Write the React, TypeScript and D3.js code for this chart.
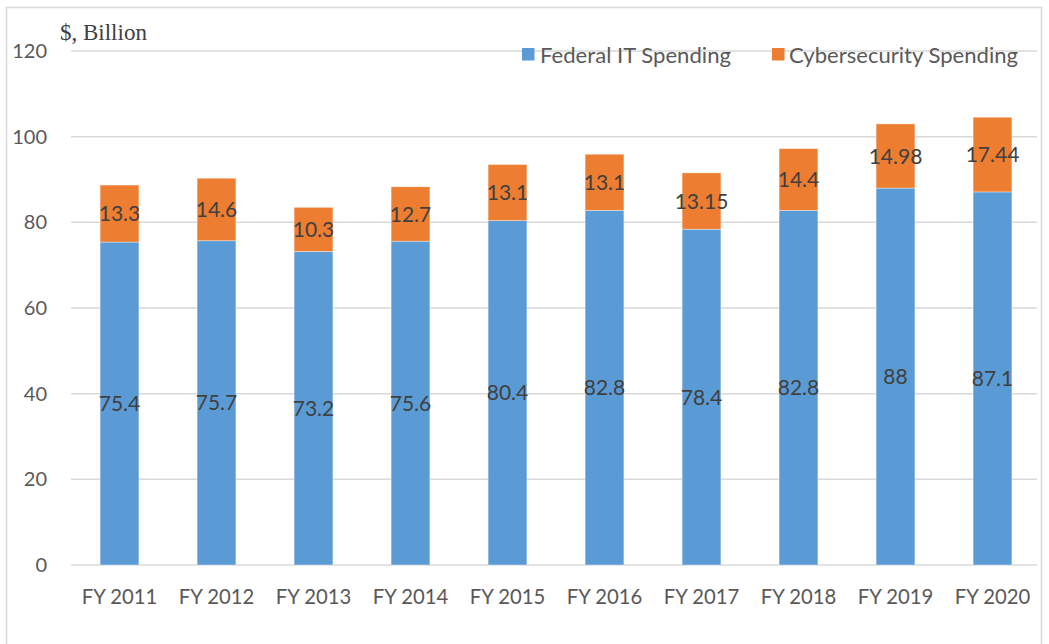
import React from "react";
import * as d3 from "d3";

const categories = ["FY 2011", "FY 2012", "FY 2013", "FY 2014", "FY 2015", "FY 2016", "FY 2017", "FY 2018", "FY 2019", "FY 2020"];
const federalIT = [75.4, 75.7, 73.2, 75.6, 80.4, 82.8, 78.4, 82.8, 88, 87.1];
const cyber = [13.3, 14.6, 10.3, 12.7, 13.1, 13.1, 13.15, 14.4, 14.98, 17.44];
const yTicks = [0, 20, 40, 60, 80, 100, 120];
const seriesNames = ["Federal IT Spending", "Cybersecurity Spending"];
const colors = ["#5B9BD5", "#ED7D31"];

const W = 1049, H = 644;
const left = 71, right = 1041, top = 51, bottom = 565;
const FONT = "Lato, 'Open Sans', sans-serif";

export default function App() {
  const x = d3.scaleBand<string>().domain(categories).range([left, right]).paddingInner(0.6).paddingOuter(0.3);
  const y = d3.scaleLinear().domain([0, 120]).range([bottom, top]);
  const rows = categories.map((c, i) => ({ cat: c, fed: federalIT[i], cyb: cyber[i] }));
  const stack = d3.stack<any>().keys(["fed", "cyb"])(rows);

  return (
    <svg width={W} height={H} style={{ position: "absolute", left: 0, top: 0, background: "#fff" }}>
      <rect x={6.5} y={7.5} width={1035} height={660} fill="#fff" stroke="#d9d9d9" strokeWidth={1.5} />
      {yTicks.map((t) => (
        <g key={t}>
          <line x1={left} x2={right - 4} y1={y(t)} y2={y(t)} stroke="#d9d9d9" strokeWidth={1.5} />
          <text x={47} y={y(t)} dy="0.35em" textAnchor="end" fontFamily={FONT} fontSize={20} fill="#595959">{t}</text>
        </g>
      ))}
      {stack.map((s, si) => (
        <g key={si}>
          {s.map((d, i) => (
            <rect key={i} x={x(categories[i])!} width={x.bandwidth()} y={y(d[1])} height={y(d[0]) - y(d[1])}
              fill={colors[si]} stroke="#fff" strokeOpacity={0.5} strokeWidth={0.75} />
          ))}
        </g>
      ))}
      {stack.map((s, si) => (
        <g key={"l" + si}>
          {s.map((d, i) => (
            <text key={i} x={x(categories[i])! + x.bandwidth() / 2} y={y((d[0] + d[1]) / 2)} dy="0.36em"
              textAnchor="middle" fontFamily={FONT} fontSize={21} fill="#404040">
              {si === 0 ? federalIT[i] : cyber[i]}
            </text>
          ))}
        </g>
      ))}
      {categories.map((c) => (
        <text key={c} x={x(c)! + x.bandwidth() / 2} y={597} dy="0.35em" textAnchor="middle" fontFamily={FONT} fontSize={20.3} fill="#595959">{c}</text>
      ))}
      <text x={60} y={40} fontFamily="'Liberation Serif', 'Times New Roman', serif" fontSize={23} fill="#404040">$, Billion</text>
      <g>
        <rect x={522} y={48} width={12.5} height={12.5} fill={colors[0]} />
        <text x={540} y={63} fontFamily={FONT} fontSize={22} fill="#595959" textLength={191} lengthAdjust="spacingAndGlyphs">{seriesNames[0]}</text>
        <rect x={772} y={48} width={12.5} height={12.5} fill={colors[1]} />
        <text x={789} y={63} fontFamily={FONT} fontSize={22} fill="#595959" textLength={229} lengthAdjust="spacingAndGlyphs">{seriesNames[1]}</text>
      </g>
    </svg>
  );
}
